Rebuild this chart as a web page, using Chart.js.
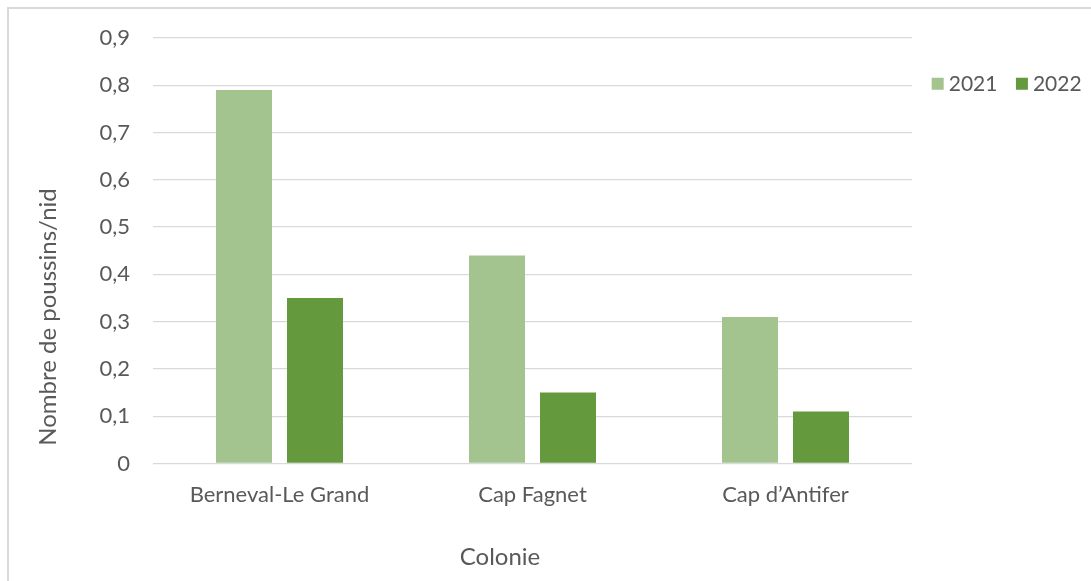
<!DOCTYPE html>
<html lang="fr">
<head>
<meta charset="utf-8">
<title>Nombre de poussins par nid</title>
<script src="https://cdn.jsdelivr.net/npm/chart.js@4.4.1/dist/chart.umd.min.js"></script>
<style>
  html, body { margin: 0; padding: 0; background: #ffffff; }
  #wrap { position: relative; width: 1091px; height: 581px; overflow: hidden; }
  #frame {
    position: absolute; left: 7px; top: 7px; right: 0; bottom: 0;
    border-left: 2px solid #d9d9d9; border-top: 2px solid #d9d9d9;
  }
  #c { position: absolute; left: 0; top: 0; }
</style>
</head>
<body>
<div id="wrap">
  <div id="frame"></div>
  <canvas id="c" width="1091" height="581"></canvas>
</div>
<script>
// Colonies and yearly values (chicks per nest)
const colonies = ['Berneval-Le Grand', 'Cap Fagnet', 'Cap d\u2019Antifer'];
const seriesNames = ['2021', '2022'];
const values2021 = [0.79, 0.44, 0.31];
const values2022 = [0.35, 0.15, 0.11];
const yTickLabels = ['0', '0,1', '0,2', '0,3', '0,4', '0,5', '0,6', '0,7', '0,8', '0,9'];
const yAxisTitle = 'Nombre de poussins/nid';
const xAxisTitle = 'Colonie';

const TEXT = '#595959';
const FONT = 'Lato, "Open Sans", sans-serif';
Chart.defaults.font.family = FONT;
Chart.defaults.font.size = 22;
Chart.defaults.color = TEXT;

// Axis captions placed over the whole plot block, and the legend moved beside the plot
const axisCaptions = {
  id: 'axisCaptions',
  afterLayout(chart) {
    const lg = chart.legend;
    lg.left = 913.2; lg.right = 1400;
    lg.top = 49.3; lg.bottom = lg.top + 90;
  },
  afterDraw(chart) {
    const ctx = chart.ctx;
    ctx.save();
    ctx.fillStyle = TEXT;
    ctx.font = '24px ' + FONT;
    ctx.textAlign = 'center';
    ctx.textBaseline = 'middle';
    ctx.fillText(xAxisTitle, 500, 557);
    ctx.translate(48, 317);
    ctx.rotate(-Math.PI / 2);
    ctx.fillText(yAxisTitle, 0, 0);
    ctx.restore();
  }
};

new Chart(document.getElementById('c'), {
  type: 'bar',
  data: {
    labels: colonies,
    datasets: [
      { label: seriesNames[0], data: values2021, backgroundColor: '#a4c48f', borderWidth: 0 },
      { label: seriesNames[1], data: values2022, backgroundColor: '#64993d', borderWidth: 0 }
    ]
  },
  options: {
    responsive: false,
    animation: false,
    devicePixelRatio: 1,
    categoryPercentage: 0.5613,
    barPercentage: 0.7887,
    layout: { padding: { left: 0, right: 179, top: 37, bottom: 0 } },
    plugins: {
      tooltip: { enabled: false },
      legend: {
        position: 'top',
        align: 'start',
        maxHeight: 1,
        labels: {
          usePointStyle: true,
          pointStyle: 'rect',
          boxWidth: 1,
          boxHeight: 12,
          padding: 24,
          color: TEXT,
          font: { size: 21 }
        }
      }
    },
    scales: {
      x: {
        grid: { display: false, drawTicks: false },
        border: { display: false },
        ticks: { color: TEXT, font: { size: 22 }, padding: 18, maxRotation: 0, autoSkip: false },
        afterFit(s) { s.height = 117.5; }
      },
      y: {
        min: 0,
        max: 0.9,
        grid: { color: '#d9d9d9', lineWidth: 1.3, drawTicks: false },
        border: { display: false },
        ticks: {
          stepSize: 0.1,
          padding: 23,
          color: TEXT,
          font: { size: 22 },
          callback: (v, i) => yTickLabels[i]
        },
        afterFit(s) { s.width = 153; }
      }
    }
  },
  plugins: [axisCaptions]
});
</script>
</body>
</html>
